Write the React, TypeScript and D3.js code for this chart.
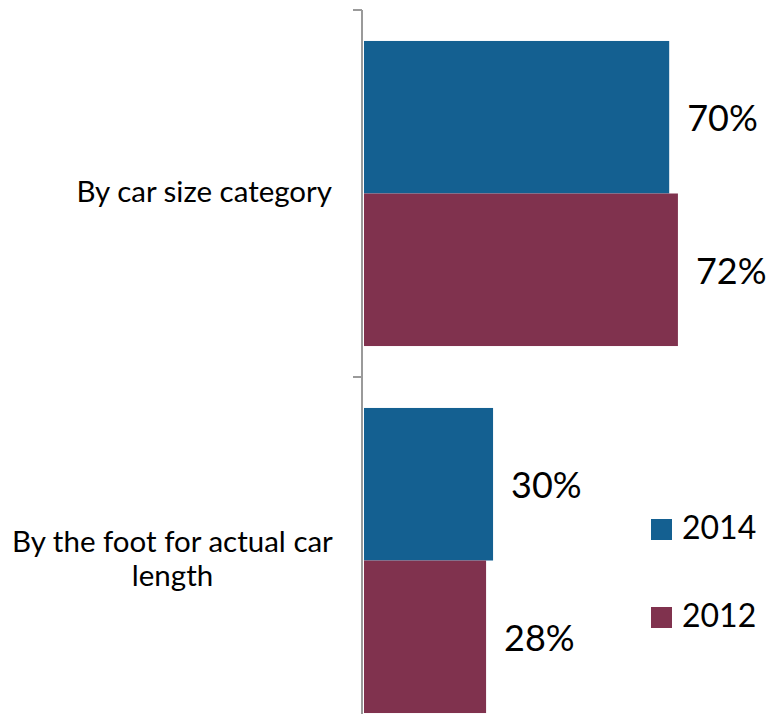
import React from "react";
import * as d3 from "d3";

const categories = ["By car size category", "By the foot for actual car length"];
const categoryLines = [["By car size category"], ["By the foot for actual car", "length"]];
const seriesNames = ["2014", "2012"];
const values2014 = [0.70, 0.296];
const values2012 = [0.72, 0.28];
const seriesColors = ["#146091", "#80324E"];

const W = 769;
const H = 714;
const FONT = "Lato, 'Open Sans', sans-serif";

export default function App() {
  const seriesValues = [values2014, values2012];
  const x = d3.scaleLinear().domain([0, 1]).range([364, 364 + 436]);
  const y0 = d3.scaleBand<string>().domain(categories).range([10, 744]).padding(0);
  const y1 = d3
    .scaleBand<string>()
    .domain(seriesNames)
    .range([0, y0.bandwidth()])
    .paddingInner(0)
    .paddingOuter(0.203);
  const fmt = d3.format(".0%");

  return (
    <svg width={W} height={H} style={{ position: "absolute", left: 0, top: 0, background: "#fff" }}>
      {/* bars */}
      {categories.map((c, ci) =>
        seriesNames.map((s, si) => {
          const v = seriesValues[si][ci];
          const yy = (y0(c) as number) + (y1(s) as number);
          return (
            <g key={c + s}>
              <rect x={x(0)} y={yy} width={x(v) - x(0)} height={y1.bandwidth()} fill={seriesColors[si]} />
              <text
                x={x(v) + 18}
                y={yy + y1.bandwidth() / 2 + 14}
                fontFamily={FONT}
                fontSize={36}
                fill="#000"
              >
                {fmt(v)}
              </text>
            </g>
          );
        })
      )}
      {/* axis */}
      <line x1={362} x2={362} y1={10} y2={744} stroke="#9a9a9a" strokeWidth={2} />
      {[...categories.map((c) => y0(c) as number), 744].map((t, i) => (
        <line key={i} x1={353} x2={362} y1={t} y2={t} stroke="#9a9a9a" strokeWidth={2} />
      ))}
      {/* category labels */}
      {categories.map((c, ci) => {
        const lines = categoryLines[ci];
        const cy = (y0(c) as number) + y0.bandwidth() / 2;
        const lh = 34;
        const multi = lines.length > 1;
        return (
          <text
            key={c}
            fontFamily={FONT}
            fontSize={29.5}
            fill="#000"
            textAnchor={multi ? "middle" : "end"}
          >
            {lines.map((l, li) => (
              <tspan
                key={li}
                x={multi ? 172.5 : 332}
                y={cy + 8 + (li - (lines.length - 1) / 2) * lh}
              >
                {l}
              </tspan>
            ))}
          </text>
        );
      })}
      {/* legend */}
      {seriesNames.map((s, si) => (
        <g key={s} transform={`translate(651, ${519 + si * 88})`}>
          <rect x={0} y={0} width={21} height={21} fill={seriesColors[si]} />
          <text x={31} y={20} fontFamily={FONT} fontSize={32} fill="#000">
            {s}
          </text>
        </g>
      ))}
    </svg>
  );
}
